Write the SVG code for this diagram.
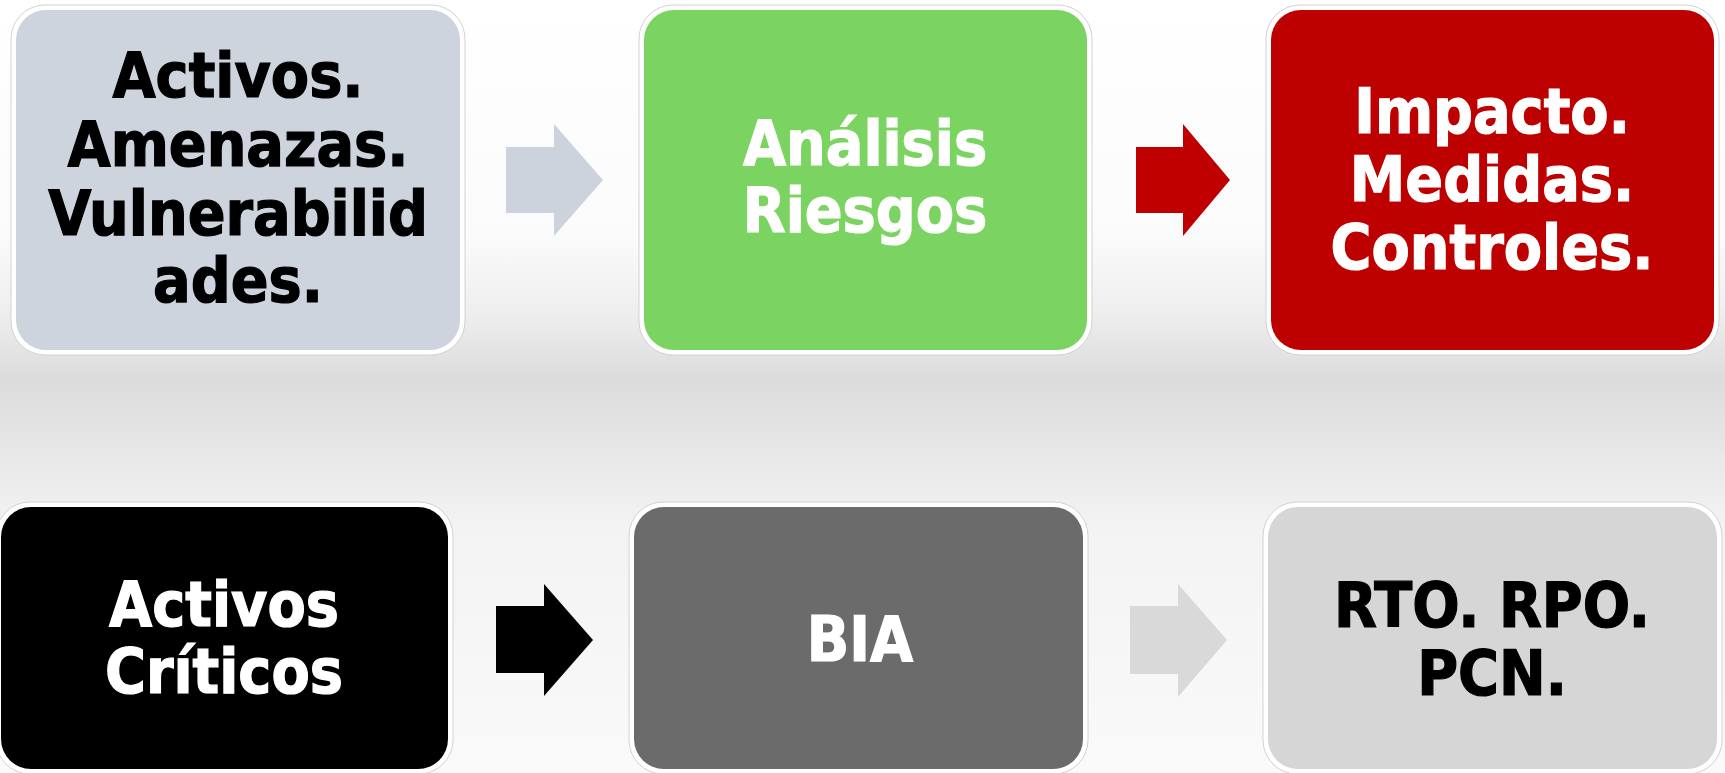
<svg xmlns="http://www.w3.org/2000/svg" width="1725" height="773" viewBox="0 0 1725 773">
  <defs>
    <linearGradient id="bg" x1="0" y1="0" x2="0" y2="1">
      <stop offset="0" stop-color="#ffffff"/>
      <stop offset="0.3" stop-color="#fbfbfb"/>
      <stop offset="0.4" stop-color="#efefef"/>
      <stop offset="0.49" stop-color="#dcdcdc"/>
      <stop offset="0.6" stop-color="#e9e9e9"/>
      <stop offset="0.68" stop-color="#f3f3f3"/>
      <stop offset="1" stop-color="#fafafa"/>
    </linearGradient>
  </defs>
  <style>
    .frame { fill: #ffffff; stroke: #d2d2d2; stroke-width: 1; }
    .lbl { font-family: "DejaVu Sans Condensed", "DejaVu Sans", sans-serif; font-weight: bold; font-size: 62px; text-anchor: middle; stroke-width: 1.2px; }
    .dark { fill: #000000; stroke: #000000; }
    .light { fill: #ffffff; stroke: #ffffff; }
  </style>
  <rect x="0" y="0" width="1725" height="773" fill="url(#bg)"/>

  <g id="connectors">
    <polygon points="506,147 554,147 554,124 603,180 554,236 554,213 506,213" fill="#ccd3dc"/>
    <polygon points="1136,147 1183,147 1183,124 1230,180 1183,236 1183,213 1136,213" fill="#c00000"/>
    <polygon points="496,606 544,606 544,584 593,640 544,696 544,673 496,673" fill="#000000"/>
    <polygon points="1130,606 1178,606 1178,584 1227,640 1178,697 1178,674 1130,674" fill="#d9d9d9"/>
  </g>

  <g id="node-activos">
    <rect class="frame" x="11" y="5" width="454" height="350" rx="34"/>
    <rect x="16" y="10" width="444" height="340" rx="30" fill="#cdd4dd"/>
    <text class="lbl dark" x="238" y="97">Activos.</text>
    <text class="lbl dark" x="238" y="166">Amenazas.</text>
    <text class="lbl dark" x="238" y="235">Vulnerabilid</text>
    <text class="lbl dark" x="238" y="302">ades.</text>
  </g>

  <g id="node-analisis">
    <rect class="frame" x="639" y="5" width="453" height="350" rx="34"/>
    <rect x="644" y="10" width="443" height="340" rx="30" fill="#7bd461"/>
    <text class="lbl light" x="865" y="165">Análisis</text>
    <text class="lbl light" x="865" y="232">Riesgos</text>
  </g>

  <g id="node-impacto">
    <rect class="frame" x="1266" y="5" width="453" height="350" rx="34"/>
    <rect x="1271" y="10" width="443" height="340" rx="30" fill="#bd0000"/>
    <text class="lbl light" x="1492" y="133">Impacto.</text>
    <text class="lbl light" x="1492" y="201">Medidas.</text>
    <text class="lbl light" x="1492" y="269">Controles.</text>
  </g>

  <g id="node-criticos">
    <rect class="frame" x="-4" y="502" width="457" height="272" rx="34"/>
    <rect x="1" y="507" width="447" height="262" rx="30" fill="#000000"/>
    <text class="lbl light" x="224" y="626">Activos</text>
    <text class="lbl light" x="224" y="693">Críticos</text>
  </g>

  <g id="node-bia">
    <rect class="frame" x="629" y="502" width="459" height="272" rx="34"/>
    <rect x="634" y="507" width="449" height="262" rx="30" fill="#6b6b6b"/>
    <text class="lbl light" x="860" y="661">BIA</text>
  </g>

  <g id="node-rto">
    <rect class="frame" x="1263" y="502" width="459" height="272" rx="34"/>
    <rect x="1268" y="507" width="449" height="262" rx="30" fill="#d6d6d6"/>
    <text class="lbl dark" x="1492" y="627">RTO. RPO.</text>
    <text class="lbl dark" x="1492" y="695">PCN.</text>
  </g>
</svg>
